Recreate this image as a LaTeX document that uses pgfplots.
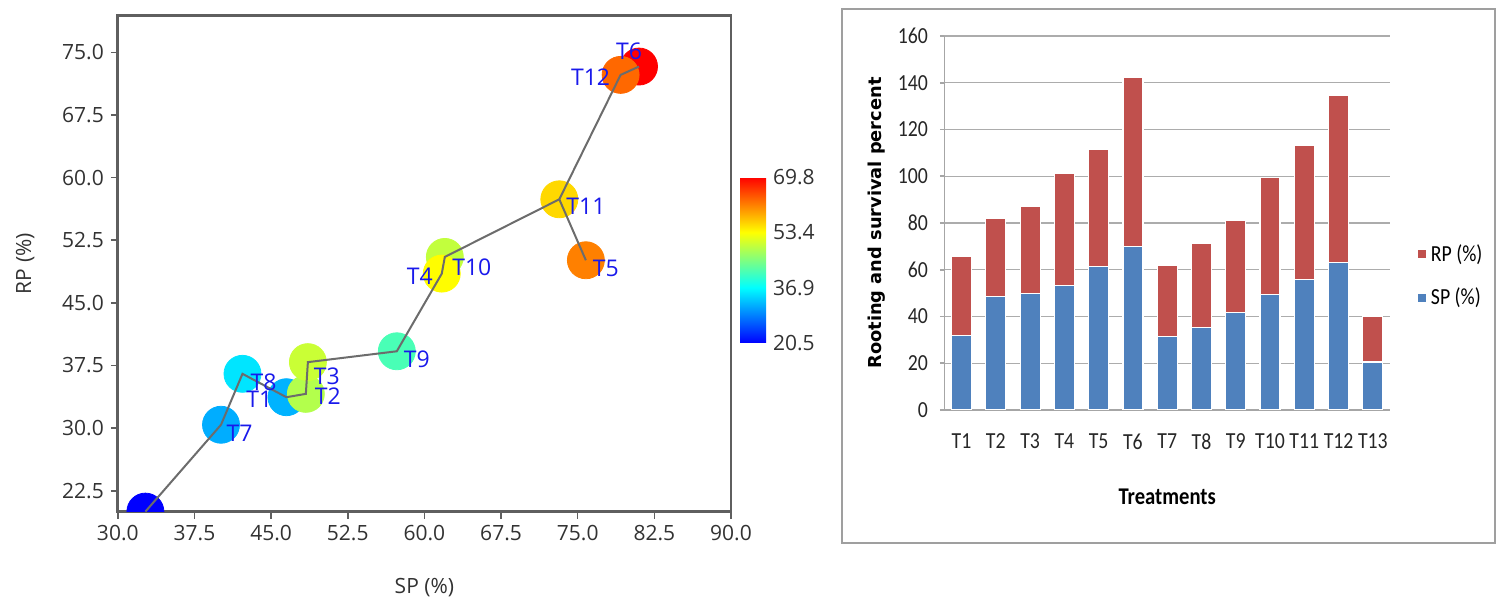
\documentclass[border=0pt]{standalone}
\usepackage{fontspec}
\setmainfont{Carlito}
\newfontfamily\osans{Open Sans}
\newfontfamily\dvs{DejaVu Sans}
\newfontfamily\carn{Carlito}[FakeStretch=0.86]
\usepackage{pgfplots}
\usepackage{pgfplotstable}
\pgfplotsset{compat=1.18}

\definecolor{spblue}{RGB}{79,129,189}
\definecolor{rpred}{RGB}{192,80,77}
\definecolor{lblblue}{RGB}{25,25,235}
\definecolor{framegray}{RGB}{95,95,95}
\definecolor{txtgray}{RGB}{50,50,50}

% scatter: x, y (RP), colour value (SP), label and label offset in bp
\pgfplotstableread{
x    y    c    lab dx    dy
32.7 20.0 20.5 T13 17    -4
40.1 30.4 31.6 T7  9.3   -4.5
42.2 36.5 35.2 T8  10.5  -4
46.5 33.7 32.0 T1  -13.5 -1
57.3 39.2 41.6 T9  10    -4
48.4 34.1 48.4 T2  11    -1
48.6 37.9 49.9 T3  9.5   -7
62.0 50.5 49.4 T10 13.5  -5
61.7 48.5 53.4 T4  -11   -1.5
73.2 57.4 55.8 T11 13.3  -3.5
75.8 50.1 61.5 T5  10    -4
81.0 73.3 69.8 T6  -5    7.5
79.2 72.3 63.0 T12 -15   -1
}\scdata

\pgfplotstableread{
x    y
32.7 20.0
40.1 30.4
42.2 36.5
46.5 33.7
48.4 34.1
48.6 37.9
57.3 39.2
61.7 48.5
62.0 50.5
73.2 57.4
79.2 72.3
81.0 73.3
}\pathdata

\pgfplotstableread{
i  sp   rp
1  32.0 33.8
2  48.4 33.5
3  49.9 37.0
4  53.4 47.7
5  61.5 49.9
6  69.8 72.6
7  31.6 30.1
8  35.2 36.0
9  41.6 39.3
10 49.4 49.9
11 55.8 57.2
12 63.0 71.6
13 20.5 19.4
}\bardata

\begin{document}
\begin{tikzpicture}
\useasboundingbox (0,0) rectangle (748.5bp,302.5bp);

% ---------- left: scatter ----------
\begin{axis}[
  at={(58.9bp,46.7bp)}, anchor=south west,
  scale only axis, width=306.6bp, height=248bp,
  xmin=30, xmax=90, ymin=20, ymax=79.4,
  xtick={30,37.5,45,52.5,60,67.5,75,82.5,90},
  ytick={22.5,30,37.5,45,52.5,60,67.5,75},
  tick align=outside, tick pos=left, major tick length=3.5bp,
  axis line style={framegray, line width=1.3bp},
  tick style={framegray, line width=0.8bp},
  /pgf/number format/assume math mode=true,
  /pgf/number format/fixed, /pgf/number format/zerofill,
  /pgf/number format/precision=1,
  ticklabel style={font=\osans\fontsize{10.5bp}{12bp}\selectfont, text=txtgray},
  xlabel={SP (\%)}, ylabel={RP (\%)},
  xlabel style={at={(0.5,-0.154)}, anchor=center, font=\osans\fontsize{10.5bp}{12bp}\selectfont, text=txtgray},
  ylabel style={at={(-0.151,0.5)}, anchor=center, font=\osans\fontsize{10.5bp}{12bp}\selectfont, text=txtgray},
  colormap={jetlike}{rgb255(0)=(0,0,255); rgb255(1)=(0,255,255); rgb255(2)=(255,255,0); rgb255(3)=(255,0,0)},
  point meta min=20.5, point meta max=69.8,
  colorbar,
  colorbar style={at={(361.5bp,131bp)}, anchor=south west,
    scale only axis, width=13bp, height=83bp,
    ytick={20.5,36.9,53.4,69.8}, major tick length=0pt,
    axis line style={draw=none},
    /pgf/number format/assume math mode=true,
    /pgf/number format/fixed, /pgf/number format/zerofill,
    /pgf/number format/precision=1,
    yticklabel style={font=\osans\fontsize{10.5bp}{12bp}\selectfont, text=txtgray}},
  clip marker paths=true,
]
\addplot[scatter, only marks, mark=*, mark size=9.25bp, scatter src=explicit,
  scatter/use mapped color={draw=mapped color, fill=mapped color}]
  table[x=x, y=y, meta=c]{\scdata};
\addplot[gray!85!black, line width=1bp, mark=none] table[x=x, y=y]{\pathdata};
\addplot[gray!85!black, line width=1bp, mark=none] coordinates {(73.2,57.4) (75.8,50.1)};
% T13's label falls below the axis and is cut off in the original
\addplot[draw=none, mark=none, point meta=explicit symbolic,
  skip coords between index={0}{1},
  visualization depends on={\thisrow{dx}\as\dx},
  visualization depends on={\thisrow{dy}\as\dy},
  nodes near coords,
  every node near coord/.append style={anchor=center, xshift=\dx bp, yshift=\dy bp,
    text=lblblue, inner sep=0pt, font=\osans\fontsize{11.5bp}{13bp}\selectfont}]
  table[x=x, y=y, meta=lab]{\scdata};
\end{axis}

% ---------- right: stacked bars ----------
\draw[gray!75, line width=1bp] (421bp,30.85bp) rectangle (747.5bp,297.85bp);
\begin{axis}[
  at={(472.2bp,97.5bp)}, anchor=south west,
  scale only axis, width=222.8bp, height=187bp,
  ybar stacked, bar width=10bp,
  xmin=0.5, xmax=13.5, ymin=0, ymax=160,
  ytick={0,20,...,160},
  xtick={1,...,13}, xticklabels={T1,T2,T3,T4,T5,T6,T7,T8,T9,T10,T11,T12,T13},
  axis x line*=bottom, axis y line*=left,
  axis line style={gray!70, line width=0.8bp, -},
  ymajorgrids, grid style={gray!65, line width=0.7bp},
  tick align=outside, major tick length=2.3bp,
  xtick style={draw=none}, ytick style={gray!70, line width=0.8bp},
  /pgf/number format/assume math mode=true,
  ticklabel style={font=\carn\fontsize{11.5bp}{13bp}\selectfont, text=black!85},
  xticklabel style={yshift=-6bp},
  yticklabel style={xshift=-2.4bp},
  xlabel={Treatments},
  xlabel style={at={(0.5,-0.2326)}, anchor=center, font=\carn\bfseries\fontsize{12bp}{14bp}\selectfont},
  ylabel={Rooting and survival percent},
  ylabel style={at={(-0.1513,0.5)}, anchor=center, font=\dvs\bfseries\fontsize{8.9bp}{10bp}\selectfont},
  legend style={at={(1.045,0.358)}, anchor=west, draw=none, fill=none,
    font=\carn\fontsize{11.5bp}{13bp}\selectfont, row sep=8bp},
  legend cell align=left, reverse legend,
  legend image code/.code={\fill[#1] (0bp,-2.3bp) rectangle (4.65bp,2.3bp);},
]
\addplot[fill=spblue, draw=white, line width=0.6bp] table[x=i, y=sp]{\bardata};
\addplot[fill=rpred, draw=white, line width=0.6bp] table[x=i, y=rp]{\bardata};
\legend{SP (\%), RP (\%)}
\end{axis}
\end{tikzpicture}
\end{document}
